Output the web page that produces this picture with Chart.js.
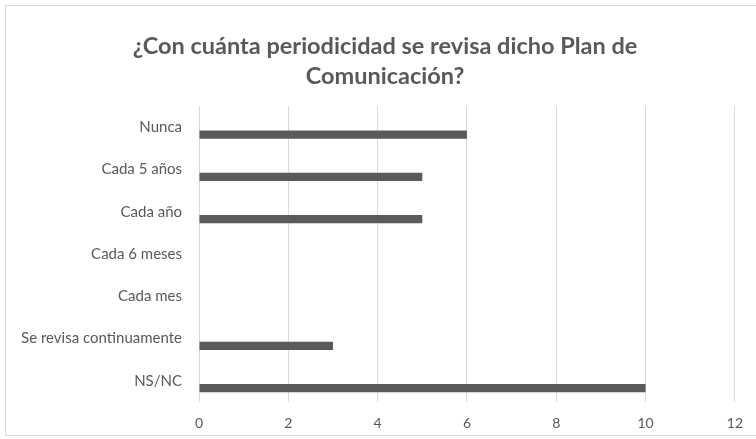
<!DOCTYPE html>
<html>
<head>
<meta charset="utf-8">
<script src="https://cdn.jsdelivr.net/npm/chart.js@4.4.0/dist/chart.umd.min.js"></script>
<style>
  html, body { margin: 0; padding: 0; background: #fff; overflow: hidden; }
  #frame {
    position: absolute; left: 5px; top: 5px;
    width: 760px; height: 429px;
    border: 1px solid #d9d9d9;
  }
  #frame canvas { display: block; }
</style>
</head>
<body>
<div id="frame"><canvas id="chart" width="750" height="429"></canvas></div>
<script>
// respuestas por categoría
const categorias = ['Nunca', 'Cada 5 años', 'Cada año', 'Cada 6 meses', 'Cada mes', 'Se revisa continuamente', 'NS/NC'];
const respuestas = [6, 5, 5, 0, 0, 3, 10];
const serieVacia = [];
const titulo = ['¿Con cuánta periodicidad se revisa dicho Plan de', 'Comunicación?'];

const gris = '#595959';

// centra el título sobre todo el marco, no solo a la izquierda del área
const moverTitulo = {
  id: 'moverTitulo',
  afterLayout(chart) {
    if (chart.titleBlock) chart.titleBlock.left += 27;
  }
};

new Chart(document.getElementById('chart'), {
  type: 'bar',
  data: {
    labels: categorias,
    datasets: [{
      label: '',
      data: serieVacia,
      backgroundColor: gris
    }, {
      label: 'Respuestas',
      data: respuestas,
      backgroundColor: '#5a5a5a'
    }]
  },
  options: {
    indexAxis: 'y',
    responsive: false,
    animation: false,
    categoryPercentage: 0.69,
    barPercentage: 0.575,
    layout: { padding: { left: 0, right: 19, top: 0, bottom: 0 } },
    plugins: {
      legend: { display: false },
      tooltip: { enabled: false },
      title: {
        display: true,
        text: titulo,
        color: gris,
        font: { family: 'Lato', size: 23.5, weight: 'bold', lineHeight: 1.28 },
        padding: { top: 25, bottom: 15 }
      }
    },
    scales: {
      x: {
        min: 0,
        max: 12,
        ticks: {
          stepSize: 2,
          color: gris,
          padding: 13,
          font: { family: 'Lato', size: 14 }
        },
        grid: { color: '#d9d9d9', lineWidth: 1, drawTicks: false },
        border: { display: false },
        afterFit: (scale) => { scale.height = 33; }
      },
      y: {
        ticks: {
          color: gris,
          padding: 17,
          font: { family: 'Lato', size: 15 }
        },
        grid: { display: false, drawTicks: false },
        border: { display: false },
        afterFit: (scale) => { scale.width = 193; }
      }
    }
  },
  plugins: [moverTitulo]
});
</script>
</body>
</html>
